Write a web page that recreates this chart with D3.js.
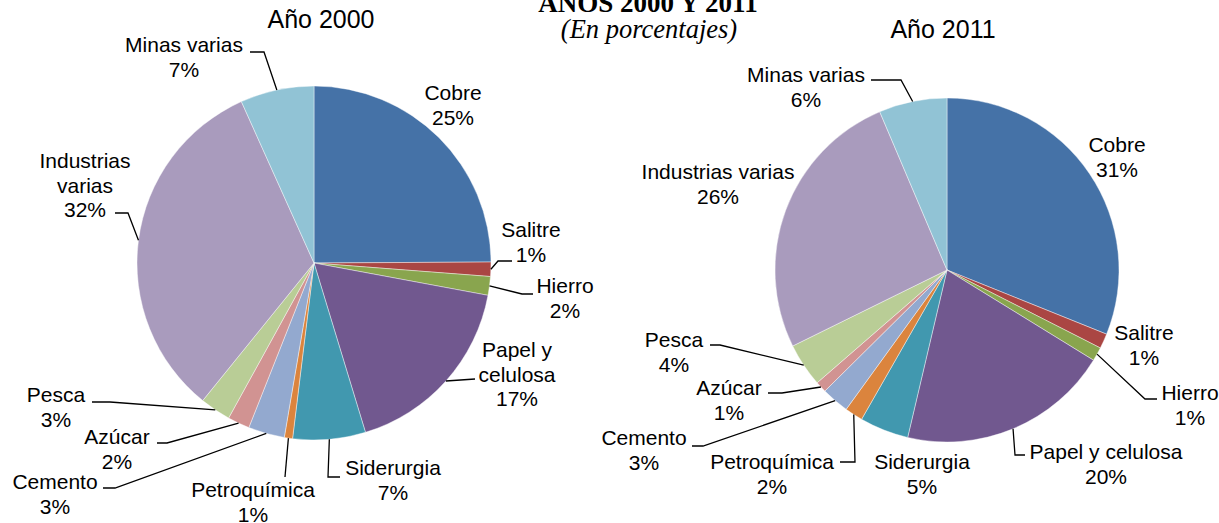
<!DOCTYPE html>
<html>
<head>
<meta charset="utf-8">
<script src="https://cdn.jsdelivr.net/npm/d3@7"></script>
<style>
  body { margin: 0; background: #fff; }
  svg text { font-family: "Liberation Sans", Arial, sans-serif; fill: #000; }
</style>
</head>
<body>
<svg id="chart" width="1219" height="523"></svg>
<script>
// sectors, clockwise from 12 o'clock
const sectors = ["Cobre", "Salitre", "Hierro", "Papel y celulosa", "Siderurgia", "Petroquímica",
                 "Cemento", "Azúcar", "Pesca", "Industrias varias", "Minas varias"];
const values2000 = [24.8, 1.3, 1.7, 17.3, 6.6, 0.75, 3.3, 2.0, 2.8, 32.3, 6.7];
const values2011 = [31.1, 1.4, 1.3, 19.9, 4.6, 1.7, 2.6, 1.05, 4.1, 25.9, 6.4];
const palette = ["#4572A7", "#AA4643", "#89A54E", "#71588F", "#4198AF", "#DB843D",
                 "#93A9CF", "#D19392", "#B9CD96", "#A99BBD", "#91C3D5"];

// label layout: x center, first baseline, name lines, leader points (from label to slice edge)
const layout2000 = [
  {x: 453, y: 100, lines: ["Cobre"], leader: null},
  {x: 531, y: 237, lines: ["Salitre"], leader: [[512, 261], [498, 261]]},
  {x: 565, y: 293, lines: ["Hierro"], leader: [[533, 294], [522, 294]]},
  {x: 517, y: 357, lines: ["Papel y", "celulosa"], leader: [[475, 379]]},
  {x: 393, y: 475, lines: ["Siderurgia"], leader: [[340, 477], [328, 477]]},
  {x: 253, y: 497, lines: ["Petroquímica"], leader: [[285, 477]]},
  {x: 55, y: 489, lines: ["Cemento"], leader: [[103, 488], [115, 488]]},
  {x: 117, y: 444, lines: ["Azúcar"], leader: [[157, 443], [167, 443]]},
  {x: 56, y: 402, lines: ["Pesca"], leader: [[92, 402], [110, 402]]},
  {x: 85, y: 168, lines: ["Industrias", "varias"], leader: [[115, 213], [128, 213]]},
  {x: 184, y: 52, lines: ["Minas varias"], leader: [[250, 52], [264, 52]]}
];
const layout2011 = [
  {x: 1117, y: 152, lines: ["Cobre"], leader: null},
  {x: 1144, y: 340, lines: ["Salitre"], leader: null},
  {x: 1190, y: 400, lines: ["Hierro"], leader: [[1157, 399], [1145, 399]]},
  {x: 1106, y: 459, lines: ["Papel y celulosa"], leader: [[1025, 455], [1015, 455]]},
  {x: 922, y: 469, lines: ["Siderurgia"], leader: null},
  {x: 772, y: 469, lines: ["Petroquímica"], leader: [[840, 462], [855, 462]]},
  {x: 644, y: 445, lines: ["Cemento"], leader: [[692, 446], [703, 446]]},
  {x: 729, y: 395, lines: ["Azúcar"], leader: [[768, 393], [782, 393]]},
  {x: 674, y: 347, lines: ["Pesca"], leader: [[710, 345], [720, 345]]},
  {x: 718, y: 179, lines: ["Industrias varias"], leader: null},
  {x: 806, y: 82, lines: ["Minas varias"], leader: [[871, 80], [901, 80]]}
];

const svg = d3.select("#chart");
const lineH = 24.5;

// title (cut at the top, as in the source)
svg.append("text")
  .attr("x", 648).attr("y", 12)
  .attr("text-anchor", "middle")
  .style("font-family", "'Liberation Serif', 'Times New Roman', serif")
  .style("font-weight", "bold")
  .style("font-size", "27px")
  .text("AÑOS 2000 Y 2011");
svg.append("text")
  .attr("x", 649).attr("y", 38)
  .attr("text-anchor", "middle")
  .style("font-family", "'Liberation Serif', 'Times New Roman', serif")
  .style("font-style", "italic")
  .style("font-size", "26.5px")
  .text("(En porcentajes)");

function drawPie(values, layout, cx, cy, r, title, titleX, titleY) {
  const pie = d3.pie().sort(null).value(d => d);
  const arcs = pie(values);
  const arc = d3.arc().innerRadius(0).outerRadius(r);

  const g = svg.append("g").attr("transform", `translate(${cx},${cy})`);
  g.selectAll("path")
    .data(arcs)
    .enter()
    .append("path")
    .attr("d", arc)
    .attr("fill", (d, i) => palette[i])
    .attr("stroke", "#fff")
    .attr("stroke-opacity", 0.6)
    .attr("stroke-width", 0.7);

  svg.append("text")
    .attr("x", titleX).attr("y", titleY)
    .attr("text-anchor", "middle")
    .style("font-size", "25px")
    .text(title);

  arcs.forEach((d, i) => {
    const L = layout[i];
    const mid = (d.startAngle + d.endAngle) / 2;
    const edge = [cx + r * Math.sin(mid), cy - r * Math.cos(mid)];

    if (L.leader) {
      const pts = L.leader.concat([edge]);
      svg.append("path")
        .attr("d", d3.line()(pts))
        .attr("fill", "none")
        .attr("stroke", "#000")
        .attr("stroke-width", 1.3);
    }

    const t = svg.append("text")
      .attr("text-anchor", "middle")
      .style("font-size", "21px");
    L.lines.concat([Math.round(values[i]) + "%"]).forEach((s, k) => {
      t.append("tspan")
        .attr("x", L.x)
        .attr("y", L.y + k * lineH)
        .text(s);
    });
  });
}

drawPie(values2000, layout2000, 314, 263, 177, "Año 2000", 321, 28);
drawPie(values2011, layout2011, 947, 270, 172, "Año 2011", 943, 38);
</script>
</body>
</html>
